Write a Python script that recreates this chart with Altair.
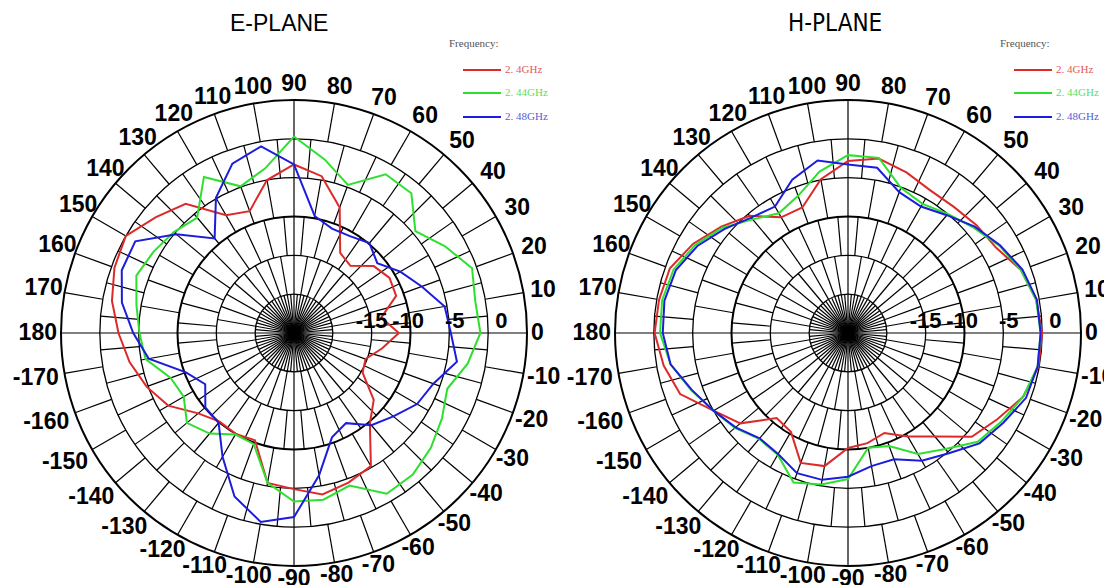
import altair as alt
import pandas as pd

# ---------------- data ----------------
ANGLES = [0, 10, 20, 30, 40, 50, 60, 70, 80, 90, 100, 110, 120, 130, 140, 150, 160, 170, 180,
          -170, -160, -150, -140, -130, -120, -110, -100, -90, -80, -70, -60, -50, -40, -30, -20, -10]

FREQS = ["2. 4GHz", "2. 44GHz", "2. 48GHz"]

E_24 = [-11.5, -13.6, -11.0, -10.8, -11.6, -13.7, -13.1, -7.8, -4.5, -3.3, -5.0, -8.3, -7.5, -3.3, -1.8, 0.0, -0.4, -1.2, -2.4,
        -3.5, -4.8, -6.3, -8.9, -10.1, -10.0, -10.3, -5.4, -4.9, -3.9, -4.5, -5.2, -9.8, -11.6, -14.8, -15.2, -13.5]
E_244 = [-1.0, -1.3, -0.6, -2.6, -4.6, -1.5, -1.4, -4.7, -2.3, 0.3, -3.5, -4.9, -1.8, -5.6, -4.8, -4.1, -3.4, -4.4, -5.1,
         -5.6, -8.1, -8.6, -7.0, -8.1, -9.9, -9.8, -5.4, -3.3, -3.2, -4.1, -1.1, -1.2, -2.0, -3.0, -4.0, -2.3]
E_248 = [-4.8, -5.3, -7.5, -9.2, -11.0, -9.9, -10.6, -10.7, -9.7, -3.3, -0.6, -1.8, -4.9, -9.1, -5.2, -1.4, -1.4, -2.5, -4.3,
         -6.0, -10.2, -11.8, -10.1, -9.9, -6.6, -2.6, -0.3, -1.3, -6.4, -10.7, -11.6, -9.5, -8.3, -6.7, -5.9, -3.7]

H_24 = [0.0, -0.4, -1.3, -3.0, -3.4, -3.8, -3.8, -3.0, -2.2, -2.85, -4.9, -7.8, -7.8, -5.3, -3.7, -2.0, -0.6, -0.3, -0.1,
        -0.9, -2.0, -5.0, -6.9, -10.7, -10.3, -7.2, -7.6, -10.2, -10.6, -11.3, -9.6, -7.6, -4.2, -2.8, -1.0, -0.1]
H_244 = [-0.2, -0.4, -1.3, -2.5, -3.9, -5.0, -5.8, -5.1, -2.1, -2.1, -3.9, -6.2, -7.2, -5.9, -3.9, -2.3, -1.1, -0.7, -0.8,
         -1.8, -3.5, -5.0, -6.0, -7.2, -6.9, -4.5, -5.2, -6.2, -10.0, -9.5, -7.0, -5.5, -3.2, -2.2, -1.0, -0.2]
H_248 = [-0.2, -0.3, -1.1, -2.4, -3.7, -5.2, -6.2, -5.7, -3.4, -3.3, -2.45, -4.0, -6.2, -5.6, -4.2, -2.6, -1.4, -1.0, -1.15,
         -1.8, -3.6, -5.0, -6.1, -7.3, -7.0, -5.8, -5.8, -6.5, -7.6, -7.7, -6.0, -4.8, -2.9, -1.9, -0.6, -0.2]

RING_DB = [-25, -20, -15, -10, -5, 0, 5]
DB_LABELS = ["-15", "-10", "-5", "0"]
PLANES = ["E", "H"]
TITLES = ["E-PLANE", "H-PLANE"]

# ---------------- layout / style ----------------
W, H = 1096, 577
OFF = 8
R = 233.0
CX = {"E": 294, "H": 848}
CY = 333
DB_MIN, DB_MAX = -25.0, 5.0
DB_LABEL_POS = [-15.0, -10.3, -4.3, 1.7]
LINE_COLORS = ["#dc2a2a", "#2ee02e", "#1c1cdc"]
TEXT_COLORS = ["#e05a5a", "#5fdc5f", "#5a5ad8"]
LEG_X = {"E": 449, "H": 1000}
LEG_LINE_X = {"E": 463, "H": 1014}
LEG_Y = [70, 93, 117]
TITLE_X = {"E": 230, "H": 788}

cx_expr = f"(datum.plane == 'E' ? {CX['E']} : {CX['H']})"


def rad(field):
    return f"({field} - ({DB_MIN})) / ({DB_MAX - DB_MIN}) * {R}"


# curves
series = {("E", 0): E_24, ("E", 1): E_244, ("E", 2): E_248,
          ("H", 0): H_24, ("H", 1): H_244, ("H", 2): H_248}
rows = []
for (pl, fi), vals in series.items():
    for i, (a, v) in enumerate(zip(ANGLES, vals)):
        rows.append(dict(plane=pl, freq=FREQS[fi], idx=i, angle=a, db=v))
    rows.append(dict(plane=pl, freq=FREQS[fi], idx=len(ANGLES), angle=ANGLES[0], db=vals[0]))
curves = pd.DataFrame(rows)

# grid spokes (brick pattern)
spk = []
for pl in PLANES:
    for k in range(6):
        r1, r2 = RING_DB[k], RING_DB[k + 1]
        if k == 0:
            angs = [5 * j for j in range(72)]
        elif k % 2 == 1:
            angs = [10 * j for j in range(36)]
        else:
            angs = [10 * j + 5 for j in range(36)] + [0, 90, 180, 270]
        for a in angs:
            spk.append(dict(plane=pl, angle=a, r1=r1, r2=r2))
spokes = pd.DataFrame(spk)

rings = pd.DataFrame([dict(plane=pl, db=d, sw=(2.0 if d in (5, -10) else 1.3))
                      for pl in PLANES for d in RING_DB[1:]])

# angle labels
lab = []
for pl in PLANES:
    for a in ANGLES:
        t = str(a)
        hw = sum(3.9 if ch == "-" else 6.4 for ch in t)
        lab.append(dict(plane=pl, angle=a, text=t, hw=hw))
alabels = pd.DataFrame(lab)

dbl = pd.DataFrame([dict(plane=pl, text=t, pos=p) for pl in PLANES for t, p in zip(DB_LABELS, DB_LABEL_POS)])

legend = pd.DataFrame([dict(plane=pl, freq=f, i=i, lx=LEG_LINE_X[pl], ly=LEG_Y[i])
                       for pl in PLANES for i, f in enumerate(FREQS)])
legtitle = pd.DataFrame([dict(plane=pl, text="Frequency:", lx=LEG_X[pl], ly=44) for pl in PLANES])
titles = pd.DataFrame([dict(plane=pl, text=t, tx=TITLE_X[pl], ty=24) for pl, t in zip(PLANES, TITLES)])

xs = alt.Scale(domain=[OFF, OFF + W], nice=False, zero=False)
ys = alt.Scale(domain=[OFF, OFF + H], nice=False, zero=False, reverse=True)


def X(f):
    return alt.X(f"{f}:Q", scale=xs, axis=None)


def Y(f):
    return alt.Y(f"{f}:Q", scale=ys, axis=None)


col_scale = alt.Scale(domain=FREQS, range=LINE_COLORS)
txt_scale = alt.Scale(domain=FREQS, range=TEXT_COLORS)

spoke_layer = alt.Chart(spokes).transform_calculate(
    t="datum.angle * PI / 180",
    x=f"{cx_expr} + {rad('datum.r1')} * cos(datum.t)",
    y=f"{CY} - {rad('datum.r1')} * sin(datum.t)",
    x2=f"{cx_expr} + {rad('datum.r2')} * cos(datum.t)",
    y2=f"{CY} - {rad('datum.r2')} * sin(datum.t)",
).mark_rule(color="black", strokeWidth=1.2).encode(
    x=X("x"), y=Y("y"), x2="x2:Q", y2="y2:Q")

ring_layer = alt.Chart(rings).transform_calculate(
    x=cx_expr, y=f"{CY}", sz=f"pow(2 * {rad('datum.db')}, 2)"
).mark_point(shape="circle", filled=False, opacity=1, color="black").encode(
    x=X("x"), y=Y("y"), size=alt.Size("sz:Q", scale=None, legend=None),
    strokeWidth=alt.StrokeWidth("sw:Q", scale=None, legend=None))

center_layer = alt.Chart(rings).transform_filter("datum.db == -20").transform_calculate(
    x=cx_expr, y=f"{CY}"
).mark_point(shape="circle", filled=True, opacity=1, color="black", size=70).encode(
    x=X("x"), y=Y("y"))

curve_layer = alt.Chart(curves).transform_calculate(
    t="datum.angle * PI / 180",
    x=f"{cx_expr} + {rad('datum.db')} * cos(datum.t)",
    y=f"{CY} - {rad('datum.db')} * sin(datum.t)",
).mark_line(strokeWidth=2).encode(
    x=X("x"), y=Y("y"), color=alt.Color("freq:N", scale=col_scale, legend=None),
    detail="plane:N", order="idx:Q")

alabel_layer = alt.Chart(alabels).transform_calculate(
    t="datum.angle * PI / 180",
    rl=(f"{R} + 4 + 4 * max(sin(datum.t), 0) + "
        "sqrt(pow(datum.hw * cos(datum.t), 2) + pow(8.5 * sin(datum.t), 2))"),
    dx=("sin(datum.t) > 0 ? 7 * abs(sin(2 * datum.t)) : "
        "(cos(datum.t) < 0 ? -7 * abs(sin(2 * datum.t)) : 0)"),
    x=f"{cx_expr} + datum.rl * cos(datum.t) + datum.dx",
    y=f"{CY} - datum.rl * sin(datum.t)",
).mark_text(font="Liberation Sans", fontSize=23, fontWeight="bold", color="black",
            align="center", baseline="middle").encode(x=X("x"), y=Y("y"), text="text:N")

dbl_layer = alt.Chart(dbl).transform_calculate(
    x=f"{cx_expr} + {rad('datum.pos')}", y=f"{CY} - 12"
).mark_text(font="Liberation Sans", fontSize=22, fontWeight="bold", color="black",
            align="center", baseline="middle").encode(x=X("x"), y=Y("y"), text="text:N")

leg_lines = alt.Chart(legend).transform_calculate(
    x2="datum.lx + 38"
).mark_rule(strokeWidth=2).encode(
    x=X("lx"), x2="x2:Q", y=Y("ly"), color=alt.Color("freq:N", scale=col_scale, legend=None))

leg_text = alt.Chart(legend).transform_calculate(
    tx="datum.lx + 42"
).mark_text(font="Liberation Serif", fontSize=11, align="left", baseline="middle").encode(
    x=X("tx"), y=Y("ly"), text="freq:N",
    color=alt.Color("freq:N", scale=txt_scale, legend=None))

leg_title = alt.Chart(legtitle).mark_text(
    font="Liberation Serif", fontSize=11, align="left", baseline="middle", color="#555555"
).encode(x=X("lx"), y=Y("ly"), text="text:N")

title_e = alt.Chart(titles).transform_filter("datum.plane == 'E'").mark_text(
    font="Liberation Sans", fontSize=23, align="left", baseline="middle", color="black"
).encode(x=X("tx"), y=Y("ty"), text="text:N")

title_h = alt.Chart(titles).transform_filter("datum.plane == 'H'").mark_text(
    font="Liberation Sans Narrow, Arial Narrow, DejaVu Sans Condensed, sans-serif",
    fontSize=24, align="left", baseline="middle", color="black"
).encode(x=X("tx"), y=Y("ty"), text="text:N")

chart = alt.layer(
    spoke_layer, ring_layer, center_layer, curve_layer, alabel_layer, dbl_layer,
    leg_lines, leg_text, leg_title, title_e, title_h
).resolve_scale(color="independent").properties(
    width=W, height=H, padding=0, autosize=alt.AutoSizeParams(type="none"),
    background="white"
).configure_view(stroke=None)

chart.save("out.html", embed_options={"renderer": "svg", "actions": False})
